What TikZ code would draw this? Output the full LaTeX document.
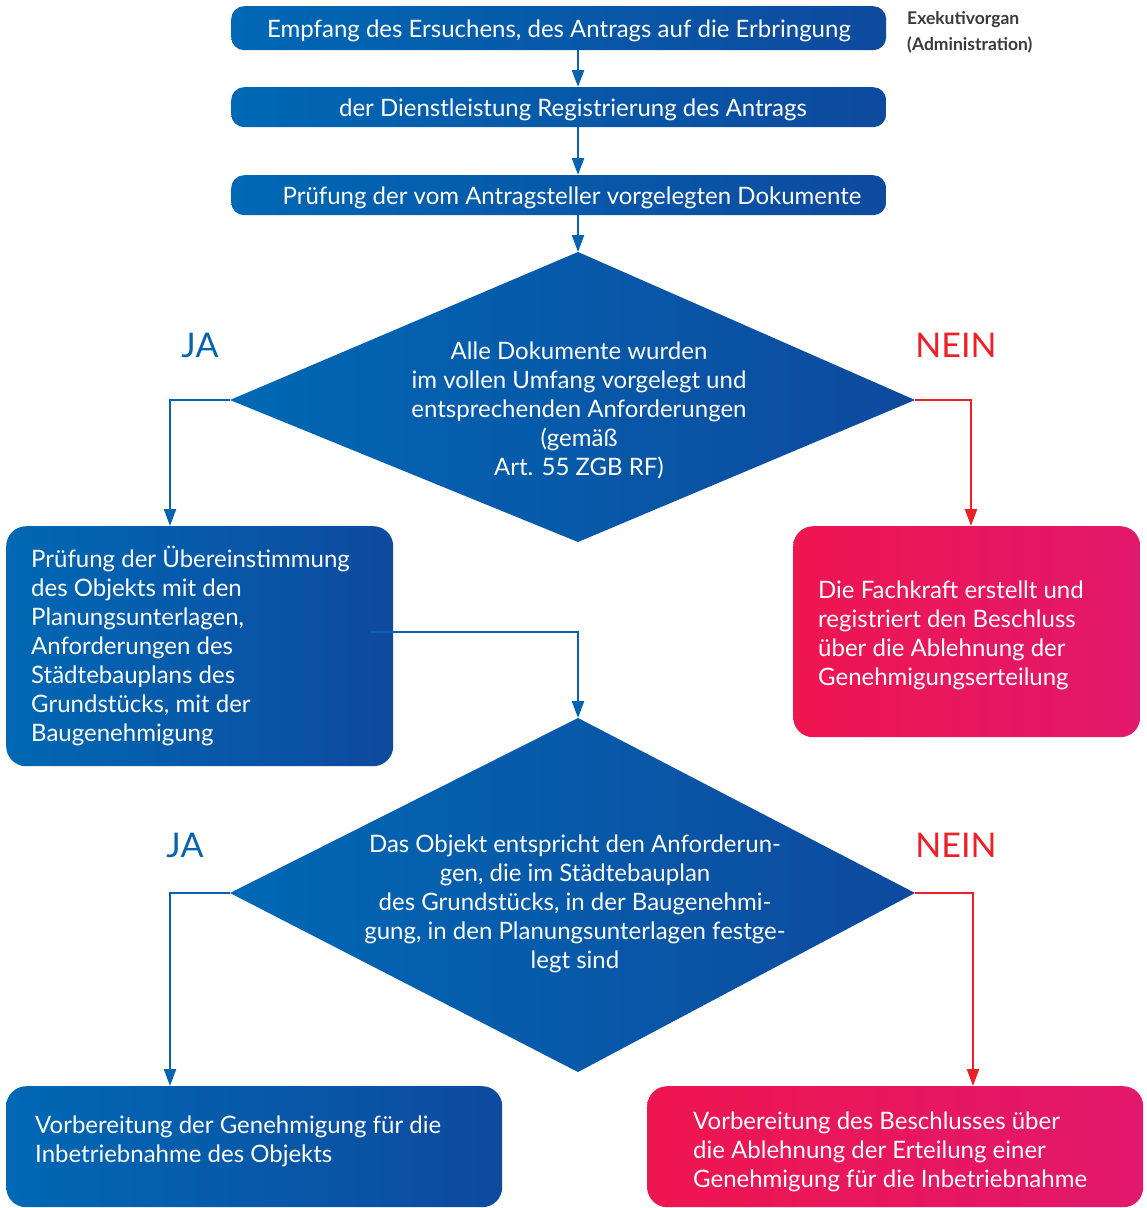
\documentclass[tikz,border=0pt]{standalone}
\usepackage{fontspec}
\setmainfont{Lato}
\usetikzlibrary{arrows.meta,calc}
\definecolor{bluel}{HTML}{0068B4}
\definecolor{bluer}{HTML}{0E4A9E}
\definecolor{redl}{HTML}{EE1650}
\definecolor{redr}{HTML}{E2186C}
\definecolor{linkblue}{HTML}{0563B0}
\definecolor{linkred}{HTML}{EE2027}
\definecolor{labgray}{HTML}{3A3A3A}
\tikzset{
  flowbox/.style={rectangle, inner sep=0pt, anchor=north west},
  bluefill/.style={left color=bluel, right color=bluer},
  redfill/.style={left color=redl, right color=redr},
  txt/.style={text=white, font=\fontsize{24}{29}\selectfont, inner sep=0pt},
  yesline/.style={draw=linkblue, line width=2.4pt, -{Triangle[length=17pt,width=12pt]}},
  noline/.style={draw=linkred, line width=2.4pt, -{Triangle[length=17pt,width=12pt]}},
  yestag/.style={text=linkblue, font=\fontsize{34}{34}\selectfont, inner sep=0pt},
  notag/.style={text=linkred, font=\fontsize{34}{34}\selectfont, inner sep=0pt},
}
\begin{document}
\begin{tikzpicture}[x=1pt,y=-1pt]
\useasboundingbox (0,0) rectangle (1147,1208);

% top chain of steps
\node[flowbox,bluefill,rounded corners=13pt,minimum width=655pt,minimum height=44pt] (b1) at (231,6) {};
\node[txt, anchor=base] (t1) at (559,37) {Empfang des Ersuchens, des Antrags auf die Erbringung};
\node[flowbox,bluefill,rounded corners=13pt,minimum width=655pt,minimum height=40pt] (b2) at (231,87) {};
\node[txt, anchor=base] (t2) at (573,116) {der Dienstleistung Registrierung des Antrags};
\node[flowbox,bluefill,rounded corners=13pt,minimum width=655pt,minimum height=40pt] (b3) at (231,175) {};
\node[txt, anchor=base] (t3) at (572,204) {Prüfung der vom Antragsteller vorgelegten Dokumente};

\node[anchor=west, text=labgray, font=\bfseries\fontsize{17.5}{26}\selectfont, align=left, inner sep=0pt] (side) at (907,32)
  {Exekutivorgan\\(Administration)};

% first decision
\coordinate (d1n) at (578,252);
\coordinate (d1w) at (230,400);
\coordinate (d1e) at (915,400);
\coordinate (d1s) at (578,542);
\path[bluefill] (d1n) -- (d1e) -- (d1s) -- (d1w) -- cycle;
\node[txt, align=center] (d1) at (579,410)
  {Alle Dokumente wurden\\im vollen Umfang vorgelegt und\\entsprechenden Anforderungen\\(gemäß\\Art. 55 ZGB RF)};
\node[yestag] (ja1) at (200,345) {JA};
\node[notag] (nein1) at (956,345) {NEIN};

% outcomes of the first decision
\node[flowbox,bluefill,rounded corners=20pt,minimum width=387pt,minimum height=240pt] (lb) at (6,526) {};
\node[txt, anchor=west, align=left] (tl) at (31,646)
  {Prüfung der Übereinstimmung\\des Objekts mit den\\Planungsunterlagen,\\Anforderungen des\\Städtebauplans des\\Grundstücks, mit der\\Baugenehmigung};
\node[flowbox,redfill,rounded corners=20pt,minimum width=347pt,minimum height=211pt] (rb) at (793,526) {};
\node[txt, anchor=west, align=left] (tr) at (818,635)
  {Die Fachkraft erstellt und\\registriert den Beschluss\\über die Ablehnung der\\Genehmigungserteilung};

% second decision
\coordinate (d2n) at (578,718);
\coordinate (d2w) at (230,893);
\coordinate (d2e) at (915,893);
\coordinate (d2s) at (578,1072);
\path[bluefill] (d2n) -- (d2e) -- (d2s) -- (d2w) -- cycle;
\node[txt, align=center] (d2) at (575,904)
  {Das Objekt entspricht den Anforderun-\\gen, die im Städtebauplan\\des Grundstücks, in der Baugenehmi-\\gung, in den Planungsunterlagen festge-\\legt sind};
\node[yestag] (ja2) at (185,845) {JA};
\node[notag] (nein2) at (956,845) {NEIN};

% final outcomes
\node[flowbox,bluefill,rounded corners=20pt,minimum width=496pt,minimum height=121pt] (fb) at (6,1086) {};
\node[txt, anchor=west, align=left] (tf) at (35,1141)
  {Vorbereitung der Genehmigung für die\\Inbetriebnahme des Objekts};
\node[flowbox,redfill,rounded corners=20pt,minimum width=496pt,minimum height=121pt] (gb) at (647,1086) {};
\node[txt, anchor=west, align=left] (tg) at (693,1152)
  {Vorbereitung des Beschlusses über\\die Ablehnung der Erteilung einer\\Genehmigung für die Inbetriebnahme};

% connectors
\draw[yesline] (b1.south -| d1n) -- (b2.north -| d1n);
\draw[yesline] (b2.south -| d1n) -- (b3.north -| d1n);
\draw[yesline] (b3.south -| d1n) -- (d1n);
\draw[yesline] (d1w) -- (170,400) -- (lb.north -| 170,0);
\draw[noline] (d1e) -- (971,400) -- (rb.north -| 971,0);
\draw[yesline] ($(lb.east)+(-23,-14)$) -| (d2n);
\draw[yesline] (d2w) -- (170,893) -- (fb.north -| 170,0);
\draw[noline] (d2e) -- (973,893) -- (gb.north -| 973,0);
\end{tikzpicture}
\end{document}
